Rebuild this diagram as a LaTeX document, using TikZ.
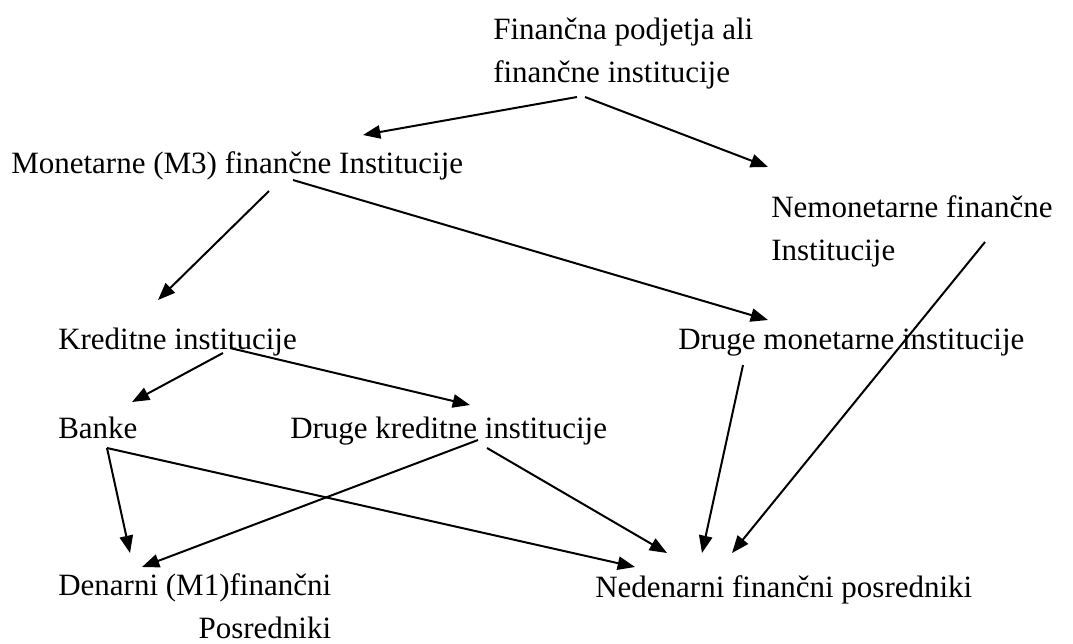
\documentclass[tikz,border=0pt]{standalone}
\usepackage{fontspec}
\setmainfont{Liberation Serif}
\usetikzlibrary{arrows.meta}

\begin{document}
\begin{tikzpicture}[x=0.75pt, y=-0.75pt,
    lbl/.style={anchor=base west, inner sep=0pt, font=\fontsize{23.25}{32.25}\selectfont},
    arr/.style={-{Triangle[length=13pt,width=10pt]}, line width=1.5pt}]
  \useasboundingbox (0,0) rectangle (1073,643);
  % labels (base = baseline of the last line)
  \node[lbl, align=left] (fin) at (493,82) {Finan\v{c}na podjetja ali\\finan\v{c}ne institucije};
  \node[lbl] (mon) at (11,173) {Monetarne (M3) finan\v{c}ne Institucije};
  \node[lbl, align=left] (nemon) at (771,260) {Nemonetarne finan\v{c}ne\\Institucije};
  \node[lbl] (kred) at (58,349) {Kreditne institucije};
  \node[lbl] (drmon) at (678,349) {Druge monetarne institucije};
  \node[lbl] (banke) at (58,438) {Banke};
  \node[lbl] (drkred) at (290,438) {Druge kreditne institucije};
  \node[lbl, align=right] (den) at (58,638) {Denarni (M1)finan\v{c}ni\\Posredniki};
  \node[lbl] (neden) at (595,597) {Nedenarni finan\v{c}ni posredniki};
  % arrows
  \foreach \from/\fs/\to/\ts in {
    fin/{84,15}/mon/{352,-38},
    fin/{92,15}/nemon/{-3,-93},
    mon/{258,18}/kred/{100,-49},
    mon/{282,7}/drmon/{90,-29},
    nemon/{214,-18}/neden/{137,-44},
    kred/{165,4}/banke/{74,-36},
    kred/{172,-1}/drkred/{180,-33},
    drmon/{65,16}/neden/{107,-44},
    banke/{49,10}/den/{72,-85},
    banke/{49,10}/neden/{40,-30},
    drkred/{188,2}/den/{84,-71},
    drkred/{197,10}/neden/{72,-44}}
    \draw[arr] ([shift={(\fs)}]\from.base west) -- ([shift={(\ts)}]\to.base west);
\end{tikzpicture}
\end{document}
